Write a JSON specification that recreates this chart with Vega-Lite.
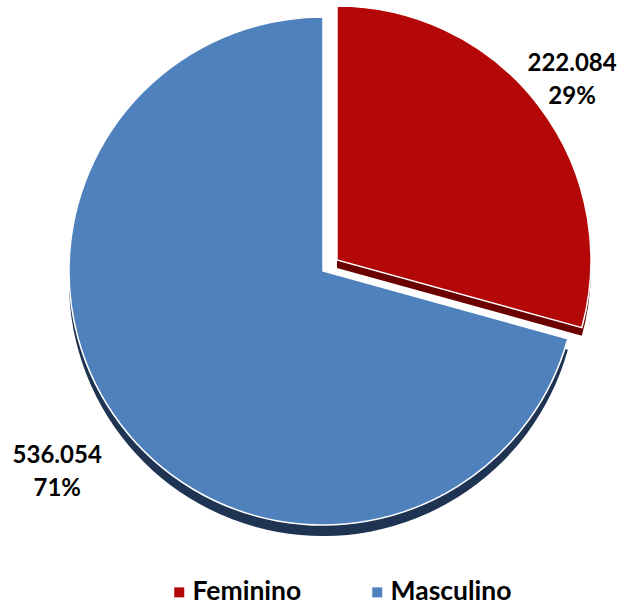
{
  "$schema": "https://vega.github.io/schema/vega-lite/v6.json",
  "width": 596,
  "height": 542,
  "autosize": {"type": "none"},
  "padding": {"left": 25, "top": 0, "right": 0, "bottom": 66},
  "background": "white",
  "config": {"view": {"stroke": null}, "font": "Lato"},
  "data": {
    "values": [
      {"Sexo": "Feminino", "Total": 222084},
      {"Sexo": "Masculino", "Total": 536054}
    ]
  },
  "transform": [
    {"joinaggregate": [{"op": "sum", "field": "Total", "as": "Soma"}]},
    {"calculate": "[replace(format(datum.Total, ',.0f'), ',', '.'), format(datum.Total / datum.Soma, '.0%')]", "as": "Rotulo"}
  ],
  "encoding": {
    "theta": {"field": "Total", "type": "quantitative", "stack": true},
    "order": {"field": "Sexo", "sort": "ascending"}
  },
  "layer": [
    {
      "mark": {"type": "arc", "radius": 254, "fill": "#1F3452", "yOffset": 11},
      "encoding": {"opacity": {"condition": {"test": "datum.Sexo == 'Masculino'", "value": 1}, "value": 0}}
    },
    {
      "mark": {"type": "arc", "radius": 254, "fill": "#6B0000", "xOffset": 14, "yOffset": -3},
      "encoding": {"opacity": {"condition": {"test": "datum.Sexo == 'Feminino'", "value": 1}, "value": 0}}
    },
    {
      "mark": {"type": "arc", "radius": 254, "stroke": "white", "strokeWidth": 1.5},
      "encoding": {
        "color": {
          "field": "Sexo", "type": "nominal",
          "scale": {"domain": ["Feminino", "Masculino"], "range": ["#B40808", "#4F81BD"]},
          "legend": {
            "orient": "none", "legendX": 141, "legendY": 579, "direction": "horizontal",
            "title": null, "symbolType": "square", "symbolSize": 100, "symbolStrokeWidth": 0,
            "labelFont": "Lato", "labelFontSize": 26.5, "labelFontWeight": "bold", "labelColor": "#000000",
            "labelOffset": 0, "columnPadding": 62, "padding": 0
          }
        },
        "opacity": {"condition": {"test": "datum.Sexo == 'Masculino'", "value": 1}, "value": 0}
      }
    },
    {
      "mark": {"type": "arc", "radius": 254, "stroke": "white", "strokeWidth": 1.5, "xOffset": 14, "yOffset": -11},
      "encoding": {
        "color": {"field": "Sexo", "type": "nominal"},
        "opacity": {"condition": {"test": "datum.Sexo == 'Feminino'", "value": 1}, "value": 0}
      }
    },
    {
      "mark": {"type": "text", "radius": 313, "font": "Lato", "fontSize": 24, "fontWeight": "bold", "color": "#000000", "lineHeight": 33, "baseline": "middle", "align": "center", "dy": -17},
      "encoding": {
        "text": {"field": "Rotulo"},
        "opacity": {"condition": {"test": "datum.Sexo == 'Feminino'", "value": 1}, "value": 0}
      }
    },
    {
      "mark": {"type": "text", "radius": 334, "font": "Lato", "fontSize": 24, "fontWeight": "bold", "color": "#000000", "lineHeight": 33, "baseline": "middle", "align": "center", "dy": -17},
      "encoding": {
        "text": {"field": "Rotulo"},
        "opacity": {"condition": {"test": "datum.Sexo == 'Masculino'", "value": 1}, "value": 0}
      }
    }
  ]
}
